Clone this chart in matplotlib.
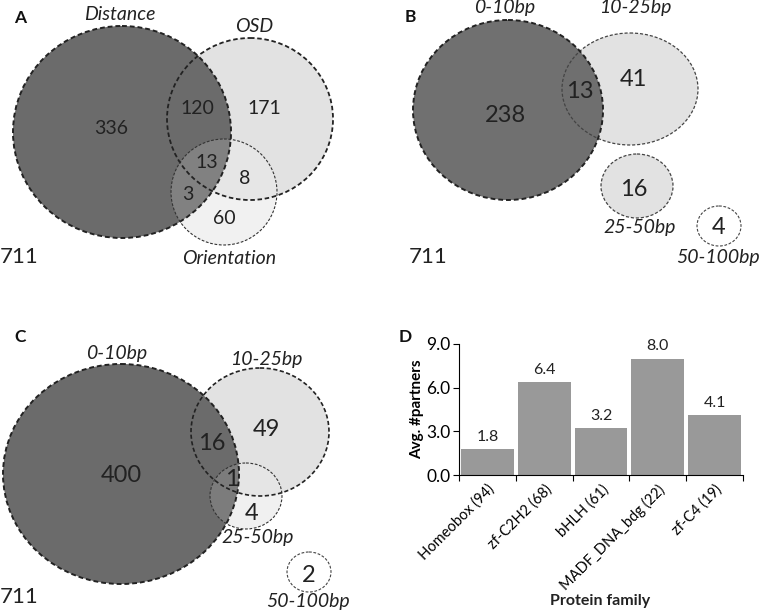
import matplotlib
matplotlib.use("Agg")
import matplotlib.pyplot as plt
from matplotlib.patches import Ellipse

plt.rcParams['font.family'] = ['Lato', 'DejaVu Sans']

# panel A: overlap of the three criteria
a_sets = ["Distance", "OSD", "Orientation"]
a_counts = ["336", "120", "171", "13", "8", "3", "60"]
# panel B / C: distance bins
bc_sets = ["0-10bp", "10-25bp", "25-50bp", "50-100bp"]
b_counts = ["238", "13", "41", "16", "4"]
c_counts = ["400", "16", "49", "1", "4", "2"]
total = "711"
# panel D
families = ["Homeobox (94)", "zf-C2H2 (68)", "bHLH (61)", "MADF_DNA_bdg (22)", "zf-C4 (19)"]
avg_partners = [1.8, 6.4, 3.2, 8.0, 4.1]

DARK = "#6b6b6b"
LIGHT = "#e2e2e2"
PALE = "#efefef"

fig = plt.figure(figsize=(7.6, 6.12), dpi=100)
bg = fig.add_axes([0, 0, 1, 1])
bg.set_xlim(0, 760)
bg.set_ylim(612, 0)
bg.axis("off")


def fill(cx, cy, rx, ry, fc, alpha=1.0, z=1):
    bg.add_patch(Ellipse((cx, cy), 2 * rx, 2 * ry, facecolor=fc, alpha=alpha, zorder=z, lw=0))


def outline(cx, cy, rx, ry, lw=1.1, ec="#222222"):
    bg.add_patch(Ellipse((cx, cy), 2 * rx, 2 * ry, facecolor="none", edgecolor=ec,
                         lw=lw, linestyle=(0, (2.5, 1.5)), zorder=5))


def circle(cx, cy, rx, ry, fc, alpha=1.0, lw=1.1, ec="#222222", z=1):
    fill(cx, cy, rx, ry, fc, alpha, z)
    outline(cx, cy, rx, ry, lw, ec)


def num(x, y, s, size=14):
    bg.text(x, y, s, fontsize=size, ha="center", va="center", color="#222222", zorder=6)


def setlabel(x, y, s, size=14):
    bg.text(x, y, s, fontsize=size, style="italic", ha="center", va="center",
            color="#222222", zorder=6)


def panel(x, y, s):
    bg.text(x, y, s, fontsize=12.5, fontweight="bold", ha="center", va="center", color="#111111")


# ---- A ----
fill(224, 192, 53, 53, PALE, z=0)
circle(250, 119, 83, 81, LIGHT, z=1, lw=1.3)
circle(122, 132, 109, 106, DARK, z=2, lw=1.4)
fill(224, 192, 53, 53, "white", alpha=0.15, z=3)
outline(224, 192, 53, 53, lw=0.8, ec="#333333")
for (x, y), s in zip([(111, 128), (197, 109), (264, 109), (207, 162), (245, 179), (188, 194), (224, 219)], a_counts):
    num(x, y, s)
for (x, y), s in zip([(120, 15), (254, 27), (229, 258)], a_sets):
    setlabel(x, y, s)
bg.text(0, 257, total, fontsize=16, ha="left", va="center", color="#222222")
panel(20, 18, "A")

# ---- B ----
circle(630, 89, 68, 56, LIGHT, z=1, lw=0.9, ec="#444444")
circle(508, 110, 95, 90, DARK, alpha=0.97, z=2, lw=1.4)
circle(637, 186, 36, 32, LIGHT, z=1, lw=0.9, ec="#444444")
circle(719, 226, 22, 20, "white", z=1, lw=0.8, ec="#444444")
for (x, y), s in zip([(505, 115), (580, 91), (633, 80), (634, 189), (719, 227)], b_counts):
    num(x, y, s, size=17)
for (x, y), s in zip([(505, 8), (635, 8), (640, 228), (718, 258)], bc_sets):
    setlabel(x, y, s)
bg.text(409, 257, total, fontsize=16, ha="left", va="center", color="#222222")
panel(410, 17, "B")

# ---- C ----
fill(246, 496, 36, 33, PALE, z=0)
circle(260, 432, 69, 64, LIGHT, z=1, lw=1.2)
circle(121, 474, 118, 110, DARK, z=2, lw=1.4)
fill(246, 496, 36, 33, "white", alpha=0.12, z=3)
outline(246, 496, 36, 33, lw=0.8, ec="#333333")
circle(309, 572, 22, 20, "white", z=1, lw=0.8, ec="#444444")
for (x, y), s in zip([(121, 475), (212, 443), (266, 430), (232, 480), (252, 514), (309, 575)], c_counts):
    num(x, y, s, size=17)
for (x, y), s in zip([(117, 354), (266, 360), (258, 537), (308, 602)], bc_sets):
    setlabel(x, y, s)
bg.text(0, 597, total, fontsize=16, ha="left", va="center", color="#222222")
panel(20, 337, "C")

# ---- D ----
ax = fig.add_axes([459 / 760, 1 - 475 / 612, (743 - 459) / 760, (475 - 344) / 612])
xpos = range(len(families))
bars = ax.bar(xpos, avg_partners, width=0.93, color="#999999", edgecolor="none")
for b, v in zip(bars, avg_partners):
    ax.text(b.get_x() + b.get_width() / 2, v + 0.35, f"{v:.1f}", ha="center", va="bottom",
            fontsize=11.5, color="#222222")
ax.set_xlim(-0.5, len(families) - 0.5)
ax.set_ylim(0, 9)
ax.set_yticks([0, 3, 6, 9])
ax.set_yticklabels([f"{t:.1f}" for t in [0, 3, 6, 9]], fontsize=12.5)
ax.set_xticks([i - 0.5 for i in range(len(families) + 1)])
ax.set_xticklabels([])
ax.set_xticks(list(xpos), minor=True)
ax.set_xticklabels(families, minor=True, rotation=45, ha="right", rotation_mode="anchor",
                   fontsize=10.5)
ax.tick_params(axis="x", which="minor", length=0, pad=5)
ax.tick_params(axis="x", which="major", length=4, direction="out")
ax.tick_params(axis="y", length=4, direction="out", pad=2)
for sp in ["top", "right"]:
    ax.spines[sp].set_visible(False)
ax.set_ylabel("Avg. #partners", fontsize=11, fontweight="bold", labelpad=2)
bg.text(600, 601, "Protein family", fontsize=11.5, fontweight="bold", ha="center",
        va="center", color="#222222")
panel(405, 337, "D")

fig.savefig("out.png", dpi=100)
